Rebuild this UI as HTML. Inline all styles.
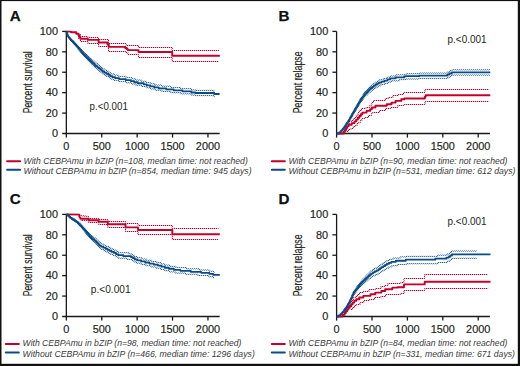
<!DOCTYPE html><html><head><meta charset="utf-8"><style>html,body{margin:0;padding:0;background:#fff}svg{display:block}text{font-family:"Liberation Sans",sans-serif}.t{stroke:#231f20;stroke-width:0.18px}</style></head><body>
<svg width="520" height="366" viewBox="0 0 520 366">
<defs><pattern id="pr" patternUnits="userSpaceOnUse" x="0" y="0" width="2" height="2"><rect x="0" y="0" width="1" height="1" fill="#c3002b"/><rect x="1" y="1" width="1" height="1" fill="#c3002b"/></pattern><pattern id="pb" patternUnits="userSpaceOnUse" x="0" y="0" width="2" height="2"><rect x="0" y="0" width="1" height="1" fill="#0b4a82"/><rect x="1" y="1" width="1" height="1" fill="#0b4a82"/></pattern></defs>
<rect x="0" y="0" width="520" height="366" fill="#fff"/>
<path d="M66.35 31.4V137.6" stroke="#1a1a1a" stroke-width="1.3" fill="none"/>
<path d="M62.15 133.5H219.65" stroke="#1a1a1a" stroke-width="1.3" fill="none"/>
<path d="M62.15 113.08H66.35" stroke="#1a1a1a" stroke-width="1.3" fill="none"/>
<path d="M62.15 92.66H66.35" stroke="#1a1a1a" stroke-width="1.3" fill="none"/>
<path d="M62.15 72.24H66.35" stroke="#1a1a1a" stroke-width="1.3" fill="none"/>
<path d="M62.15 51.82H66.35" stroke="#1a1a1a" stroke-width="1.3" fill="none"/>
<path d="M62.15 31.4H66.35" stroke="#1a1a1a" stroke-width="1.3" fill="none"/>
<path d="M101.75 133.5V137.6" stroke="#1a1a1a" stroke-width="1.3" fill="none"/>
<path d="M137.15 133.5V137.6" stroke="#1a1a1a" stroke-width="1.3" fill="none"/>
<path d="M172.55 133.5V137.6" stroke="#1a1a1a" stroke-width="1.3" fill="none"/>
<path d="M207.95 133.5V137.6" stroke="#1a1a1a" stroke-width="1.3" fill="none"/>
<text x="57.95" y="137.2" font-size="10.9" class="t" fill="#231f20" text-anchor="end">0</text>
<text x="57.95" y="116.78" font-size="10.9" class="t" fill="#231f20" text-anchor="end">20</text>
<text x="57.95" y="96.36" font-size="10.9" class="t" fill="#231f20" text-anchor="end">40</text>
<text x="57.95" y="75.94" font-size="10.9" class="t" fill="#231f20" text-anchor="end">60</text>
<text x="57.95" y="55.52" font-size="10.9" class="t" fill="#231f20" text-anchor="end">80</text>
<text x="57.95" y="35.1" font-size="10.9" class="t" fill="#231f20" text-anchor="end">100</text>
<text x="66.35" y="149.7" font-size="10.9" class="t" fill="#231f20" text-anchor="middle">0</text>
<text x="101.75" y="149.7" font-size="10.9" class="t" fill="#231f20" text-anchor="middle">500</text>
<text x="137.15" y="149.7" font-size="10.9" class="t" fill="#231f20" text-anchor="middle">1000</text>
<text x="172.55" y="149.7" font-size="10.9" class="t" fill="#231f20" text-anchor="middle">1500</text>
<text x="207.95" y="149.7" font-size="10.9" class="t" fill="#231f20" text-anchor="middle">2000</text>
<text transform="translate(32 113.3) rotate(-90)" x="0" y="0" font-size="12.3" class="t" fill="#231f20" textLength="62" lengthAdjust="spacingAndGlyphs">Percent survival</text>
<text x="89.6" y="109.8" font-size="10.2" fill="#231f20" textLength="38.3" lengthAdjust="spacingAndGlyphs">p.&lt;0.001</text>
<text x="9.8" y="20.9" font-size="15.2" font-weight="bold" fill="#111" stroke="#111" stroke-width="0.25">A</text>
<path d="M7.1 161.3H20.1" stroke="#c3002b" stroke-width="2" stroke-linecap="round" fill="none"/>
<path d="M7.1 169.7H20.1" stroke="#0b4a82" stroke-width="2" stroke-linecap="round" fill="none"/>
<text x="23.6" y="163.5" font-size="8.6" font-style="italic" fill="#3a3a3a" textLength="224.2" lengthAdjust="spacingAndGlyphs">With CEBPAmu in bZIP (n=108, median time: not reached)</text>
<text x="23.6" y="173.8" font-size="8.6" font-style="italic" fill="#3a3a3a" textLength="228" lengthAdjust="spacingAndGlyphs">Without CEBPAmu in bZIP (n=854, median time: 945 days)</text>
<path d="M336.6 31.4V137.6" stroke="#1a1a1a" stroke-width="1.3" fill="none"/>
<path d="M336.6 133.5H489.9" stroke="#1a1a1a" stroke-width="1.3" fill="none"/>
<path d="M332.4 113.08H336.6" stroke="#1a1a1a" stroke-width="1.3" fill="none"/>
<path d="M332.4 92.66H336.6" stroke="#1a1a1a" stroke-width="1.3" fill="none"/>
<path d="M332.4 72.24H336.6" stroke="#1a1a1a" stroke-width="1.3" fill="none"/>
<path d="M332.4 51.82H336.6" stroke="#1a1a1a" stroke-width="1.3" fill="none"/>
<path d="M332.4 31.4H336.6" stroke="#1a1a1a" stroke-width="1.3" fill="none"/>
<path d="M372 133.5V137.6" stroke="#1a1a1a" stroke-width="1.3" fill="none"/>
<path d="M407.4 133.5V137.6" stroke="#1a1a1a" stroke-width="1.3" fill="none"/>
<path d="M442.8 133.5V137.6" stroke="#1a1a1a" stroke-width="1.3" fill="none"/>
<path d="M478.2 133.5V137.6" stroke="#1a1a1a" stroke-width="1.3" fill="none"/>
<text x="328.2" y="137.2" font-size="10.9" class="t" fill="#231f20" text-anchor="end">0</text>
<text x="328.2" y="116.78" font-size="10.9" class="t" fill="#231f20" text-anchor="end">20</text>
<text x="328.2" y="96.36" font-size="10.9" class="t" fill="#231f20" text-anchor="end">40</text>
<text x="328.2" y="75.94" font-size="10.9" class="t" fill="#231f20" text-anchor="end">60</text>
<text x="328.2" y="55.52" font-size="10.9" class="t" fill="#231f20" text-anchor="end">80</text>
<text x="328.2" y="35.1" font-size="10.9" class="t" fill="#231f20" text-anchor="end">100</text>
<text x="336.6" y="149.7" font-size="10.9" class="t" fill="#231f20" text-anchor="middle">0</text>
<text x="372" y="149.7" font-size="10.9" class="t" fill="#231f20" text-anchor="middle">500</text>
<text x="407.4" y="149.7" font-size="10.9" class="t" fill="#231f20" text-anchor="middle">1000</text>
<text x="442.8" y="149.7" font-size="10.9" class="t" fill="#231f20" text-anchor="middle">1500</text>
<text x="478.2" y="149.7" font-size="10.9" class="t" fill="#231f20" text-anchor="middle">2000</text>
<text transform="translate(302.25 113.3) rotate(-90)" x="0" y="0" font-size="12.3" class="t" fill="#231f20" textLength="62" lengthAdjust="spacingAndGlyphs">Percent relapse</text>
<text x="447.6" y="42.6" font-size="10.2" fill="#231f20" textLength="38.9" lengthAdjust="spacingAndGlyphs">p.&lt;0.001</text>
<text x="278.6" y="21.1" font-size="15.2" font-weight="bold" fill="#111" stroke="#111" stroke-width="0.25">B</text>
<path d="M271.8 161.3H284.8" stroke="#c3002b" stroke-width="2" stroke-linecap="round" fill="none"/>
<path d="M271.8 169.7H284.8" stroke="#0b4a82" stroke-width="2" stroke-linecap="round" fill="none"/>
<text x="288.5" y="163.5" font-size="8.6" font-style="italic" fill="#3a3a3a" textLength="218.9" lengthAdjust="spacingAndGlyphs">With CEBPAmu in bZIP (n=90, median time: not reached)</text>
<text x="288.5" y="173.8" font-size="8.6" font-style="italic" fill="#3a3a3a" textLength="226.9" lengthAdjust="spacingAndGlyphs">Without CEBPAmu in bZIP (n=531, median time: 612 days)</text>
<path d="M66.35 214.4V320.6" stroke="#1a1a1a" stroke-width="1.3" fill="none"/>
<path d="M62.15 316.5H219.65" stroke="#1a1a1a" stroke-width="1.3" fill="none"/>
<path d="M62.15 296.08H66.35" stroke="#1a1a1a" stroke-width="1.3" fill="none"/>
<path d="M62.15 275.66H66.35" stroke="#1a1a1a" stroke-width="1.3" fill="none"/>
<path d="M62.15 255.24H66.35" stroke="#1a1a1a" stroke-width="1.3" fill="none"/>
<path d="M62.15 234.82H66.35" stroke="#1a1a1a" stroke-width="1.3" fill="none"/>
<path d="M62.15 214.4H66.35" stroke="#1a1a1a" stroke-width="1.3" fill="none"/>
<path d="M101.75 316.5V320.6" stroke="#1a1a1a" stroke-width="1.3" fill="none"/>
<path d="M137.15 316.5V320.6" stroke="#1a1a1a" stroke-width="1.3" fill="none"/>
<path d="M172.55 316.5V320.6" stroke="#1a1a1a" stroke-width="1.3" fill="none"/>
<path d="M207.95 316.5V320.6" stroke="#1a1a1a" stroke-width="1.3" fill="none"/>
<text x="57.95" y="320.2" font-size="10.9" class="t" fill="#231f20" text-anchor="end">0</text>
<text x="57.95" y="299.78" font-size="10.9" class="t" fill="#231f20" text-anchor="end">20</text>
<text x="57.95" y="279.36" font-size="10.9" class="t" fill="#231f20" text-anchor="end">40</text>
<text x="57.95" y="258.94" font-size="10.9" class="t" fill="#231f20" text-anchor="end">60</text>
<text x="57.95" y="238.52" font-size="10.9" class="t" fill="#231f20" text-anchor="end">80</text>
<text x="57.95" y="218.1" font-size="10.9" class="t" fill="#231f20" text-anchor="end">100</text>
<text x="66.35" y="332.7" font-size="10.9" class="t" fill="#231f20" text-anchor="middle">0</text>
<text x="101.75" y="332.7" font-size="10.9" class="t" fill="#231f20" text-anchor="middle">500</text>
<text x="137.15" y="332.7" font-size="10.9" class="t" fill="#231f20" text-anchor="middle">1000</text>
<text x="172.55" y="332.7" font-size="10.9" class="t" fill="#231f20" text-anchor="middle">1500</text>
<text x="207.95" y="332.7" font-size="10.9" class="t" fill="#231f20" text-anchor="middle">2000</text>
<text transform="translate(32 296.3) rotate(-90)" x="0" y="0" font-size="12.3" class="t" fill="#231f20" textLength="62" lengthAdjust="spacingAndGlyphs">Percent survival</text>
<text x="90.8" y="292.8" font-size="10.2" fill="#231f20" textLength="39.8" lengthAdjust="spacingAndGlyphs">p.&lt;0.001</text>
<text x="9.8" y="204.3" font-size="15.2" font-weight="bold" fill="#111" stroke="#111" stroke-width="0.25">C</text>
<path d="M5.8 344H18.8" stroke="#c3002b" stroke-width="2" stroke-linecap="round" fill="none"/>
<path d="M5.8 352.4H18.8" stroke="#0b4a82" stroke-width="2" stroke-linecap="round" fill="none"/>
<text x="22.6" y="346.2" font-size="8.6" font-style="italic" fill="#3a3a3a" textLength="218.8" lengthAdjust="spacingAndGlyphs">With CEBPAmu in bZIP (n=98, median time: not reached)</text>
<text x="22.6" y="356.5" font-size="8.6" font-style="italic" fill="#3a3a3a" textLength="232.2" lengthAdjust="spacingAndGlyphs">Without CEBPAmu in bZIP (n=466, median time: 1296 days)</text>
<path d="M336.6 214.4V320.6" stroke="#1a1a1a" stroke-width="1.3" fill="none"/>
<path d="M336.6 316.5H489.9" stroke="#1a1a1a" stroke-width="1.3" fill="none"/>
<path d="M332.4 296.08H336.6" stroke="#1a1a1a" stroke-width="1.3" fill="none"/>
<path d="M332.4 275.66H336.6" stroke="#1a1a1a" stroke-width="1.3" fill="none"/>
<path d="M332.4 255.24H336.6" stroke="#1a1a1a" stroke-width="1.3" fill="none"/>
<path d="M332.4 234.82H336.6" stroke="#1a1a1a" stroke-width="1.3" fill="none"/>
<path d="M332.4 214.4H336.6" stroke="#1a1a1a" stroke-width="1.3" fill="none"/>
<path d="M372 316.5V320.6" stroke="#1a1a1a" stroke-width="1.3" fill="none"/>
<path d="M407.4 316.5V320.6" stroke="#1a1a1a" stroke-width="1.3" fill="none"/>
<path d="M442.8 316.5V320.6" stroke="#1a1a1a" stroke-width="1.3" fill="none"/>
<path d="M478.2 316.5V320.6" stroke="#1a1a1a" stroke-width="1.3" fill="none"/>
<text x="328.2" y="320.2" font-size="10.9" class="t" fill="#231f20" text-anchor="end">0</text>
<text x="328.2" y="299.78" font-size="10.9" class="t" fill="#231f20" text-anchor="end">20</text>
<text x="328.2" y="279.36" font-size="10.9" class="t" fill="#231f20" text-anchor="end">40</text>
<text x="328.2" y="258.94" font-size="10.9" class="t" fill="#231f20" text-anchor="end">60</text>
<text x="328.2" y="238.52" font-size="10.9" class="t" fill="#231f20" text-anchor="end">80</text>
<text x="328.2" y="218.1" font-size="10.9" class="t" fill="#231f20" text-anchor="end">100</text>
<text x="336.6" y="332.7" font-size="10.9" class="t" fill="#231f20" text-anchor="middle">0</text>
<text x="372" y="332.7" font-size="10.9" class="t" fill="#231f20" text-anchor="middle">500</text>
<text x="407.4" y="332.7" font-size="10.9" class="t" fill="#231f20" text-anchor="middle">1000</text>
<text x="442.8" y="332.7" font-size="10.9" class="t" fill="#231f20" text-anchor="middle">1500</text>
<text x="478.2" y="332.7" font-size="10.9" class="t" fill="#231f20" text-anchor="middle">2000</text>
<text transform="translate(302.25 296.3) rotate(-90)" x="0" y="0" font-size="12.3" class="t" fill="#231f20" textLength="62" lengthAdjust="spacingAndGlyphs">Percent relapse</text>
<text x="447.6" y="225.3" font-size="10.2" fill="#231f20" textLength="38.9" lengthAdjust="spacingAndGlyphs">p.&lt;0.001</text>
<text x="278.6" y="203.9" font-size="15.2" font-weight="bold" fill="#111" stroke="#111" stroke-width="0.25">D</text>
<path d="M271.8 344H284.8" stroke="#c3002b" stroke-width="2" stroke-linecap="round" fill="none"/>
<path d="M271.8 352.4H284.8" stroke="#0b4a82" stroke-width="2" stroke-linecap="round" fill="none"/>
<text x="288.5" y="346.2" font-size="8.6" font-style="italic" fill="#3a3a3a" textLength="218.8" lengthAdjust="spacingAndGlyphs">With CEBPAmu in bZIP (n=84, median time: not reached)</text>
<text x="288.5" y="356.5" font-size="8.6" font-style="italic" fill="#3a3a3a" textLength="226.5" lengthAdjust="spacingAndGlyphs">Without CEBPAmu in bZIP (n=331, median time: 671 days)</text>
<path d="M78.6 33.5V34.5H80.4V36.5H87.8V37.5H98.4V39.5H108.5V43.5H126V45.5H138.5V47.5H172.2V50.5H219" stroke="#c3002b" stroke-width="1" fill="none" opacity="0.28"/><path d="M78.6 33.5V34.5H80.4V36.5H87.8V37.5H98.4V39.5H108.5V43.5H126V45.5H138.5V47.5H172.2V50.5H219" stroke="url(#pr)" stroke-width="1" fill="none" opacity="1.0"/>
<path d="M78.6 34.5V38.5H80.4V41.5H87.8V43.5H98.6V46.5H108.5V51.5H126V52.5H128V54.5H138.5V57.5H172.2V61.5H219" stroke="#c3002b" stroke-width="1" fill="none" opacity="0.28"/><path d="M78.6 34.5V38.5H80.4V41.5H87.8V43.5H98.6V46.5H108.5V51.5H126V52.5H128V54.5H138.5V57.5H172.2V61.5H219" stroke="url(#pr)" stroke-width="1" fill="none" opacity="1.0"/>
<path d="M70.8 39.5 L72.3 39.5 L72.3 40.88 L73.8 40.88 L73.8 42.25 L75.15 42.25 L75.15 43.53 L76.4 43.53 L76.4 44.89 L77.65 44.89 L77.65 46.25 L78.9 46.25 L78.9 47.61 L80.25 47.61 L80.25 49.08 L81.5 49.08 L81.5 50.44 L82.75 50.44 L82.75 51.79 L84.1 51.79 L84.1 53.09 L85.6 53.09 L85.6 54.47 L87.1 54.47 L87.1 55.84 L88.45 55.84 L88.45 57.08 L89.95 57.08 L89.95 58.45 L91.3 58.45 L91.3 59.69 L92.8 59.69 L92.8 60.98 L94.3 60.98 L94.3 62.26 L95.9 62.26 L95.9 63.58 L97.65 63.58 L97.65 64.9 L99.4 64.9 L99.4 66.22 L101 66.22 L101 67.54 L102.5 67.54 L102.5 68.79 L104.35 68.79 L104.35 70.1 L106.6 70.1 L106.6 71.3 L108.9 71.3 L108.9 72.66 L110.8 72.66 L110.8 73.9 L114.05 73.9 L114.05 75.18 L118.6 75.18 L118.6 76.4 L125.95 76.4 L125.95 77.6 L131.75 77.6 L131.75 78.85 L135.8 78.85 L135.8 80.07 L141.45 80.07 L141.45 81.3 L146.25 81.3 L146.25 82.54 L150.25 82.54 L150.25 83.76 L155 83.76 L155 85 L161.8 85 L161.8 86.22 L170.8 86.22 L170.8 87.45 L180.55 87.45 L180.55 88.66 L191.4 88.66 L191.4 89.89 L195.4 89.89 L195.4 90.4 L213.95 90.4 L213.95 91.67 L214.4 91.67" stroke="#0b4a82" stroke-width="1" fill="none" opacity="0.28"/><path d="M70.8 39.5 L72.3 39.5 L72.3 40.88 L73.8 40.88 L73.8 42.25 L75.15 42.25 L75.15 43.53 L76.4 43.53 L76.4 44.89 L77.65 44.89 L77.65 46.25 L78.9 46.25 L78.9 47.61 L80.25 47.61 L80.25 49.08 L81.5 49.08 L81.5 50.44 L82.75 50.44 L82.75 51.79 L84.1 51.79 L84.1 53.09 L85.6 53.09 L85.6 54.47 L87.1 54.47 L87.1 55.84 L88.45 55.84 L88.45 57.08 L89.95 57.08 L89.95 58.45 L91.3 58.45 L91.3 59.69 L92.8 59.69 L92.8 60.98 L94.3 60.98 L94.3 62.26 L95.9 62.26 L95.9 63.58 L97.65 63.58 L97.65 64.9 L99.4 64.9 L99.4 66.22 L101 66.22 L101 67.54 L102.5 67.54 L102.5 68.79 L104.35 68.79 L104.35 70.1 L106.6 70.1 L106.6 71.3 L108.9 71.3 L108.9 72.66 L110.8 72.66 L110.8 73.9 L114.05 73.9 L114.05 75.18 L118.6 75.18 L118.6 76.4 L125.95 76.4 L125.95 77.6 L131.75 77.6 L131.75 78.85 L135.8 78.85 L135.8 80.07 L141.45 80.07 L141.45 81.3 L146.25 81.3 L146.25 82.54 L150.25 82.54 L150.25 83.76 L155 83.76 L155 85 L161.8 85 L161.8 86.22 L170.8 86.22 L170.8 87.45 L180.55 87.45 L180.55 88.66 L191.4 88.66 L191.4 89.89 L195.4 89.89 L195.4 90.4 L213.95 90.4 L213.95 91.67 L214.4 91.67" stroke="url(#pb)" stroke-width="1" fill="none" opacity="0.8"/>
<path d="M70.8 40.9 L72.05 40.9 L72.05 42.25 L73.3 42.25 L73.3 43.61 L74.55 43.61 L74.55 44.96 L75.65 44.96 L75.65 46.28 L76.65 46.28 L76.65 47.54 L77.65 47.54 L77.65 48.79 L78.65 48.79 L78.65 50.04 L79.75 50.04 L79.75 51.42 L80.75 51.42 L80.75 52.68 L81.75 52.68 L81.75 53.93 L82.75 53.93 L82.75 55.19 L83.85 55.19 L83.85 56.44 L85.1 56.44 L85.1 57.79 L86.35 57.79 L86.35 59.15 L87.7 59.15 L87.7 60.61 L88.95 60.61 L88.95 61.96 L90.2 61.96 L90.2 63.32 L91.55 63.32 L91.55 64.75 L93.05 64.75 L93.05 66.17 L94.55 66.17 L94.55 67.59 L96.15 67.59 L96.15 68.97 L97.9 68.97 L97.9 70.29 L99.5 70.29 L99.5 71.5 L101 71.5 L101 72.74 L102.5 72.74 L102.5 73.99 L104.35 73.99 L104.35 75.3 L106.6 75.3 L106.6 76.5 L108.9 76.5 L108.9 77.86 L110.8 77.86 L110.8 79.1 L114.05 79.1 L114.05 80.38 L118.6 80.38 L118.6 81.6 L125.95 81.6 L125.95 82.8 L131.75 82.8 L131.75 84.05 L135.8 84.05 L135.8 85.27 L141.45 85.27 L141.45 86.5 L146.25 86.5 L146.25 87.73 L150.25 87.73 L150.25 88.96 L155 88.96 L155 90.2 L161.8 90.2 L161.8 91.42 L170.8 91.42 L170.8 92.65 L180.55 92.65 L180.55 93.86 L191.4 93.86 L191.4 95.09 L195.4 95.09 L195.4 95.6 L213.95 95.6 L213.95 96.87 L214.4 96.87" stroke="#0b4a82" stroke-width="1" fill="none" opacity="0.28"/><path d="M70.8 40.9 L72.05 40.9 L72.05 42.25 L73.3 42.25 L73.3 43.61 L74.55 43.61 L74.55 44.96 L75.65 44.96 L75.65 46.28 L76.65 46.28 L76.65 47.54 L77.65 47.54 L77.65 48.79 L78.65 48.79 L78.65 50.04 L79.75 50.04 L79.75 51.42 L80.75 51.42 L80.75 52.68 L81.75 52.68 L81.75 53.93 L82.75 53.93 L82.75 55.19 L83.85 55.19 L83.85 56.44 L85.1 56.44 L85.1 57.79 L86.35 57.79 L86.35 59.15 L87.7 59.15 L87.7 60.61 L88.95 60.61 L88.95 61.96 L90.2 61.96 L90.2 63.32 L91.55 63.32 L91.55 64.75 L93.05 64.75 L93.05 66.17 L94.55 66.17 L94.55 67.59 L96.15 67.59 L96.15 68.97 L97.9 68.97 L97.9 70.29 L99.5 70.29 L99.5 71.5 L101 71.5 L101 72.74 L102.5 72.74 L102.5 73.99 L104.35 73.99 L104.35 75.3 L106.6 75.3 L106.6 76.5 L108.9 76.5 L108.9 77.86 L110.8 77.86 L110.8 79.1 L114.05 79.1 L114.05 80.38 L118.6 80.38 L118.6 81.6 L125.95 81.6 L125.95 82.8 L131.75 82.8 L131.75 84.05 L135.8 84.05 L135.8 85.27 L141.45 85.27 L141.45 86.5 L146.25 86.5 L146.25 87.73 L150.25 87.73 L150.25 88.96 L155 88.96 L155 90.2 L161.8 90.2 L161.8 91.42 L170.8 91.42 L170.8 92.65 L180.55 92.65 L180.55 93.86 L191.4 93.86 L191.4 95.09 L195.4 95.09 L195.4 95.6 L213.95 95.6 L213.95 96.87 L214.4 96.87" stroke="url(#pb)" stroke-width="1" fill="none" opacity="0.8"/>
<path d="M66.35 31.5V31.6H71V32.3H76.3V33.8H78.6V35.5H79.5V37.2H80.4V38.8H87.8V39.9H98.6V42.5H107.5V44.5H108.8V46.9H125.2V48H126.8V49.1H127.9V50.1H138.5V52H172.2V55.7H219.8" stroke="#c3002b" stroke-width="1.9" fill="none" stroke-linejoin="round"/>
<path d="M66.35 31.5 L66.5 31.5 L66.5 32.5 L67 32.5 L67 33.84 L67.5 33.84 L67.5 35.19 L68 35.19 L68 36.53 L68.85 36.53 L68.85 37.74 L69.85 37.74 L69.85 39 L70.8 39 L70.8 40.2 L71.8 40.2 L71.8 41.2 L73.05 41.2 L73.05 42.45 L74.3 42.45 L74.3 43.7 L75.4 43.7 L75.4 44.89 L76.4 44.89 L76.4 46.06 L77.4 46.06 L77.4 47.23 L78.4 47.23 L78.4 48.4 L79.5 48.4 L79.5 49.69 L80.5 49.69 L80.5 50.86 L81.5 50.86 L81.5 52.03 L82.5 52.03 L82.5 53.2 L83.6 53.2 L83.6 54.4 L84.6 54.4 L84.6 55.4 L85.85 55.4 L85.85 56.65 L86.85 56.65 L86.85 57.65 L87.95 57.65 L87.95 58.75 L88.95 58.75 L88.95 59.75 L89.95 59.75 L89.95 60.75 L90.95 60.75 L90.95 61.75 L92.05 61.75 L92.05 62.78 L93.3 62.78 L93.3 63.9 L94.55 63.9 L94.55 65.03 L95.9 65.03 L95.9 66.18 L97.4 66.18 L97.4 67.31 L98.9 67.31 L98.9 68.45 L100.25 68.45 L100.25 69.52 L101.5 69.52 L101.5 70.56 L102.75 70.56 L102.75 71.6 L104.35 71.6 L104.35 72.7 L106.35 72.7 L106.35 73.77 L108.4 73.77 L108.4 74.93 L110.15 74.93 L110.15 76.07 L112.3 76.07 L112.3 77.09 L115.1 77.09 L115.1 78.12 L119.1 78.12 L119.1 79.12 L125.7 79.12 L125.7 80.16 L131 80.16 L131 81.22 L134.3 81.22 L134.3 82.24 L137.8 82.24 L137.8 83.24 L143.75 83.24 L143.75 84.28 L146.75 84.28 L146.75 85.31 L150.25 85.31 L150.25 86.36 L154.25 86.36 L154.25 87.4 L158.8 87.4 L158.8 88.41 L166.3 88.41 L166.3 89.43 L173.8 89.43 L173.8 90.46 L182.55 90.46 L182.55 91.47 L191.4 91.47 L191.4 92.49 L195.4 92.49 L195.4 93 L214.2 93 L214.2 94.01 L219.6 94.01" stroke="#0b4a82" stroke-width="1.8" fill="none" stroke-linejoin="round"/>
<path d="M342.9 127.91 L343.9 127.91 L343.9 126.46 L344.9 126.46 L344.9 125.01 L345.8 125.01 L345.8 123.7 L346.8 123.7 L346.8 122.16 L347.8 122.16 L347.8 120.62 L348.8 120.62 L348.8 119.09 L349.55 119.09 L349.55 117.66 L350.3 117.66 L350.3 116.24 L351.05 116.24 L351.05 114.81 L351.7 114.81 L351.7 113.58 L352.45 113.58 L352.45 112.25 L353.2 112.25 L353.2 110.92 L353.95 110.92 L353.95 109.59 L354.7 109.59 L354.7 108.26 L355.45 108.26 L355.45 106.94 L356.2 106.94 L356.2 105.62 L356.95 105.62 L356.95 104.3 L357.85 104.3 L357.85 102.71 L358.6 102.71 L358.6 101.39 L359.35 101.39 L359.35 100.06 L360.1 100.06 L360.1 98.73 L360.85 98.73 L360.85 97.47 L361.85 97.47 L361.85 96 L362.85 96 L362.85 94.52 L363.85 94.52 L363.85 93.05 L364.8 93.05 L364.8 91.64 L366.05 91.64 L366.05 90.3 L367.3 90.3 L367.3 88.96 L368.55 88.96 L368.55 87.63 L369.85 87.63 L369.85 86.3 L371.6 86.3 L371.6 84.92 L373.35 84.92 L373.35 83.53 L375.15 83.53 L375.15 82.26 L377.4 82.26 L377.4 80.94 L379.5 80.94 L379.5 79.7 L383.25 79.7 L383.25 78.45 L386.75 78.45 L386.75 77.23 L390 77.23 L390 75.99 L396.3 75.99 L396.3 74.77 L406 74.77 L406 73.7 L419.2 73.7 L419.2 73.1 L447.75 73.1 L447.75 71.81 L450.25 71.81 L450.25 70.56 L452 70.56 L452 69.8 L490 69.8" stroke="#0b4a82" stroke-width="1" fill="none" opacity="0.28"/><path d="M342.9 127.91 L343.9 127.91 L343.9 126.46 L344.9 126.46 L344.9 125.01 L345.8 125.01 L345.8 123.7 L346.8 123.7 L346.8 122.16 L347.8 122.16 L347.8 120.62 L348.8 120.62 L348.8 119.09 L349.55 119.09 L349.55 117.66 L350.3 117.66 L350.3 116.24 L351.05 116.24 L351.05 114.81 L351.7 114.81 L351.7 113.58 L352.45 113.58 L352.45 112.25 L353.2 112.25 L353.2 110.92 L353.95 110.92 L353.95 109.59 L354.7 109.59 L354.7 108.26 L355.45 108.26 L355.45 106.94 L356.2 106.94 L356.2 105.62 L356.95 105.62 L356.95 104.3 L357.85 104.3 L357.85 102.71 L358.6 102.71 L358.6 101.39 L359.35 101.39 L359.35 100.06 L360.1 100.06 L360.1 98.73 L360.85 98.73 L360.85 97.47 L361.85 97.47 L361.85 96 L362.85 96 L362.85 94.52 L363.85 94.52 L363.85 93.05 L364.8 93.05 L364.8 91.64 L366.05 91.64 L366.05 90.3 L367.3 90.3 L367.3 88.96 L368.55 88.96 L368.55 87.63 L369.85 87.63 L369.85 86.3 L371.6 86.3 L371.6 84.92 L373.35 84.92 L373.35 83.53 L375.15 83.53 L375.15 82.26 L377.4 82.26 L377.4 80.94 L379.5 80.94 L379.5 79.7 L383.25 79.7 L383.25 78.45 L386.75 78.45 L386.75 77.23 L390 77.23 L390 75.99 L396.3 75.99 L396.3 74.77 L406 74.77 L406 73.7 L419.2 73.7 L419.2 73.1 L447.75 73.1 L447.75 71.81 L450.25 71.81 L450.25 70.56 L452 70.56 L452 69.8 L490 69.8" stroke="url(#pb)" stroke-width="1" fill="none" opacity="0.8"/>
<path d="M342.9 129.29 L343.9 129.29 L343.9 127.98 L344.9 127.98 L344.9 126.68 L346.05 126.68 L346.05 125.15 L347.05 125.15 L347.05 123.76 L348.05 123.76 L348.05 122.36 L349.05 122.36 L349.05 120.88 L349.8 120.88 L349.8 119.56 L350.55 119.56 L350.55 118.24 L351.3 118.24 L351.3 116.92 L352.2 116.92 L352.2 115.41 L352.95 115.41 L352.95 114.19 L353.7 114.19 L353.7 112.96 L354.45 112.96 L354.45 111.74 L355.2 111.74 L355.2 110.53 L355.95 110.53 L355.95 109.31 L356.7 109.31 L356.7 108.1 L357.45 108.1 L357.45 106.89 L358.35 106.89 L358.35 105.42 L359.1 105.42 L359.1 104.2 L359.85 104.2 L359.85 102.98 L360.6 102.98 L360.6 101.76 L361.6 101.76 L361.6 100.42 L362.6 100.42 L362.6 99.09 L363.6 99.09 L363.6 97.76 L364.6 97.76 L364.6 96.42 L365.8 96.42 L365.8 95.21 L367.3 95.21 L367.3 93.78 L368.8 93.78 L368.8 92.36 L370.35 92.36 L370.35 91.04 L372.1 91.04 L372.1 89.72 L373.85 89.72 L373.85 88.41 L375.9 88.41 L375.9 87.12 L378.15 87.12 L378.15 85.79 L380.75 85.79 L380.75 84.58 L384.5 84.58 L384.5 83.33 L388 83.33 L388 82.05 L391.25 82.05 L391.25 80.82 L399.5 80.82 L399.5 79.6 L406 79.6 L406 79 L419.2 79 L419.2 78.4 L447.75 78.4 L447.75 77.11 L450.25 77.11 L450.25 75.86 L452 75.86 L452 75.1 L490 75.1" stroke="#0b4a82" stroke-width="1" fill="none" opacity="0.28"/><path d="M342.9 129.29 L343.9 129.29 L343.9 127.98 L344.9 127.98 L344.9 126.68 L346.05 126.68 L346.05 125.15 L347.05 125.15 L347.05 123.76 L348.05 123.76 L348.05 122.36 L349.05 122.36 L349.05 120.88 L349.8 120.88 L349.8 119.56 L350.55 119.56 L350.55 118.24 L351.3 118.24 L351.3 116.92 L352.2 116.92 L352.2 115.41 L352.95 115.41 L352.95 114.19 L353.7 114.19 L353.7 112.96 L354.45 112.96 L354.45 111.74 L355.2 111.74 L355.2 110.53 L355.95 110.53 L355.95 109.31 L356.7 109.31 L356.7 108.1 L357.45 108.1 L357.45 106.89 L358.35 106.89 L358.35 105.42 L359.1 105.42 L359.1 104.2 L359.85 104.2 L359.85 102.98 L360.6 102.98 L360.6 101.76 L361.6 101.76 L361.6 100.42 L362.6 100.42 L362.6 99.09 L363.6 99.09 L363.6 97.76 L364.6 97.76 L364.6 96.42 L365.8 96.42 L365.8 95.21 L367.3 95.21 L367.3 93.78 L368.8 93.78 L368.8 92.36 L370.35 92.36 L370.35 91.04 L372.1 91.04 L372.1 89.72 L373.85 89.72 L373.85 88.41 L375.9 88.41 L375.9 87.12 L378.15 87.12 L378.15 85.79 L380.75 85.79 L380.75 84.58 L384.5 84.58 L384.5 83.33 L388 83.33 L388 82.05 L391.25 82.05 L391.25 80.82 L399.5 80.82 L399.5 79.6 L406 79.6 L406 79 L419.2 79 L419.2 78.4 L447.75 78.4 L447.75 77.11 L450.25 77.11 L450.25 75.86 L452 75.86 L452 75.1 L490 75.1" stroke="url(#pb)" stroke-width="1" fill="none" opacity="0.8"/>
<path d="M346.8 123.5 L349.3 123.5 L349.3 121.5 L351.45 121.5 L351.45 120.5 L353.2 120.5 L353.2 118.5 L354.95 118.5 L354.95 117.5 L356.2 117.5 L356.2 115.5 L357.2 115.5 L357.2 114.5 L358.2 114.5 L358.2 112.5 L359.2 112.5 L359.2 110.5 L361.35 110.5 L361.35 108.5 L366 108.5 L366 107.5 L369.75 107.5 L369.75 105.5 L371.25 105.5 L371.25 104.5 L372 104.5 L372 102.5 L373.5 102.5 L373.5 100.5 L374.6 100.5 L374.6 100.5 L385.25 100.5 L385.25 98.5 L388.25 98.5 L388.25 97.5 L393 97.5 L393 95.5 L398.25 95.5 L398.25 94.5 L403.5 94.5 L403.5 92.5 L404.2 92.5 L404.2 92.5 L424.85 92.5 L424.85 90.5 L425.5 90.5 L425.5 89.5 L489 89.5" stroke="#c3002b" stroke-width="1" fill="none" opacity="0.28"/><path d="M346.8 123.5 L349.3 123.5 L349.3 121.5 L351.45 121.5 L351.45 120.5 L353.2 120.5 L353.2 118.5 L354.95 118.5 L354.95 117.5 L356.2 117.5 L356.2 115.5 L357.2 115.5 L357.2 114.5 L358.2 114.5 L358.2 112.5 L359.2 112.5 L359.2 110.5 L361.35 110.5 L361.35 108.5 L366 108.5 L366 107.5 L369.75 107.5 L369.75 105.5 L371.25 105.5 L371.25 104.5 L372 104.5 L372 102.5 L373.5 102.5 L373.5 100.5 L374.6 100.5 L374.6 100.5 L385.25 100.5 L385.25 98.5 L388.25 98.5 L388.25 97.5 L393 97.5 L393 95.5 L398.25 95.5 L398.25 94.5 L403.5 94.5 L403.5 92.5 L404.2 92.5 L404.2 92.5 L424.85 92.5 L424.85 90.5 L425.5 90.5 L425.5 89.5 L489 89.5" stroke="url(#pr)" stroke-width="1" fill="none" opacity="1.0"/>
<path d="M345.8 131.5 L348.3 131.5 L348.3 129.5 L350.95 129.5 L350.95 128.5 L353.2 128.5 L353.2 126.5 L355.45 126.5 L355.45 125.5 L357.2 125.5 L357.2 123.5 L358.7 123.5 L358.7 122.5 L360.35 122.5 L360.35 120.5 L362 120.5 L362 118.5 L364.75 118.5 L364.75 117.5 L368.5 117.5 L368.5 115.5 L371.5 115.5 L371.5 113.5 L372.5 113.5 L372.5 112.5 L379.35 112.5 L379.35 110.5 L385.5 110.5 L385.5 108.5 L390.75 108.5 L390.75 107.5 L397.75 107.5 L397.75 105.5 L403.75 105.5 L403.75 104.5 L404.2 104.5 L404.2 104.5 L424.85 104.5 L424.85 102.5 L425.5 102.5 L425.5 101.5 L489 101.5" stroke="#c3002b" stroke-width="1" fill="none" opacity="0.28"/><path d="M345.8 131.5 L348.3 131.5 L348.3 129.5 L350.95 129.5 L350.95 128.5 L353.2 128.5 L353.2 126.5 L355.45 126.5 L355.45 125.5 L357.2 125.5 L357.2 123.5 L358.7 123.5 L358.7 122.5 L360.35 122.5 L360.35 120.5 L362 120.5 L362 118.5 L364.75 118.5 L364.75 117.5 L368.5 117.5 L368.5 115.5 L371.5 115.5 L371.5 113.5 L372.5 113.5 L372.5 112.5 L379.35 112.5 L379.35 110.5 L385.5 110.5 L385.5 108.5 L390.75 108.5 L390.75 107.5 L397.75 107.5 L397.75 105.5 L403.75 105.5 L403.75 104.5 L404.2 104.5 L404.2 104.5 L424.85 104.5 L424.85 102.5 L425.5 102.5 L425.5 101.5 L489 101.5" stroke="url(#pr)" stroke-width="1" fill="none" opacity="1.0"/>
<path d="M336.6 133.5 L343.65 133.5 L343.65 131.74 L344.9 131.74 L344.9 129.92 L346.05 129.92 L346.05 128.07 L347.05 128.07 L347.05 126.38 L348.55 126.38 L348.55 124.71 L351.7 124.71 L351.7 123.1 L354.45 123.1 L354.45 121.35 L356.2 121.35 L356.2 119.6 L357.85 119.6 L357.85 117.74 L359.35 117.74 L359.35 115.99 L360.85 115.99 L360.85 114.29 L362.35 114.29 L362.35 112.6 L366.55 112.6 L366.55 110.9 L370.1 110.9 L370.1 109.2 L371.85 109.2 L371.85 107.45 L375.4 107.45 L375.4 105.8 L386.75 105.8 L386.75 104.19 L391.55 104.19 L391.55 102.58 L395.55 102.58 L395.55 100.9 L401.25 100.9 L401.25 99.27 L404.2 99.27 L404.2 98.5 L424.85 98.5 L424.85 96.74 L425.7 96.74 L425.7 95.2 L490.3 95.2" stroke="#c3002b" stroke-width="1.9" fill="none" stroke-linejoin="round"/>
<path d="M336.6 133.5 L339.25 133.5 L339.25 132.39 L340.65 132.39 L340.65 131.22 L341.65 131.22 L341.65 130.06 L342.65 130.06 L342.65 128.89 L343.65 128.89 L343.65 127.57 L344.4 127.57 L344.4 126.53 L345.15 126.53 L345.15 125.5 L346.05 125.5 L346.05 124.23 L346.8 124.23 L346.8 123.13 L347.55 123.13 L347.55 122.03 L348.3 122.03 L348.3 120.93 L349.05 120.93 L349.05 119.74 L349.8 119.74 L349.8 118.37 L350.55 118.37 L350.55 117 L351.3 117 L351.3 115.63 L351.95 115.63 L351.95 114.48 L352.7 114.48 L352.7 113.2 L353.45 113.2 L353.45 111.92 L354.2 111.92 L354.2 110.65 L354.95 110.65 L354.95 109.38 L355.7 109.38 L355.7 108.11 L356.45 108.11 L356.45 106.84 L357.2 106.84 L357.2 105.58 L357.85 105.58 L357.85 104.48 L358.6 104.48 L358.6 103.2 L359.35 103.2 L359.35 101.92 L360.1 101.92 L360.1 100.65 L360.85 100.65 L360.85 99.45 L361.6 99.45 L361.6 98.4 L362.35 98.4 L362.35 97.34 L363.1 97.34 L363.1 96.29 L363.85 96.29 L363.85 95.23 L364.6 95.23 L364.6 94.18 L365.55 94.18 L365.55 93.13 L366.55 93.13 L366.55 92.11 L367.55 92.11 L367.55 91.09 L368.55 91.09 L368.55 90.07 L369.55 90.07 L369.55 89.05 L370.85 89.05 L370.85 88.01 L372.35 88.01 L372.35 86.82 L373.85 86.82 L373.85 85.64 L375.4 85.64 L375.4 84.61 L377.15 84.61 L377.15 83.58 L378.9 83.58 L378.9 82.55 L381.5 82.55 L381.5 81.53 L384.5 81.53 L384.5 80.53 L387.5 80.53 L387.5 79.44 L390.25 79.44 L390.25 78.4 L395.55 78.4 L395.55 77.38 L404.25 77.38 L404.25 76.36 L406 76.36 L406 76.2 L419.2 76.2 L419.2 75.6 L447.25 75.6 L447.25 74.59 L449.25 74.59 L449.25 73.49 L451.75 73.49 L451.75 72.41 L452 72.41 L452 72.3 L490.3 72.3" stroke="#0b4a82" stroke-width="1.8" fill="none" stroke-linejoin="round"/>
<path d="M79.6 215.5 L88.6 216.5 L88.6 218.5 L98.6 218.5 L98.6 219.5 L107.8 219.5 L107.8 221.5 L125.5 221.5 L125.5 223.5 L138 223.5 L138 225.5 L172.3 225.5 L172.3 228.5 L218.4 228.5" stroke="#c3002b" stroke-width="1" fill="none" opacity="0.28"/><path d="M79.6 215.5 L88.6 216.5 L88.6 218.5 L98.6 218.5 L98.6 219.5 L107.8 219.5 L107.8 221.5 L125.5 221.5 L125.5 223.5 L138 223.5 L138 225.5 L172.3 225.5 L172.3 228.5 L218.4 228.5" stroke="url(#pr)" stroke-width="1" fill="none" opacity="1.0"/>
<path d="M79.6 218.5 L81 220.5 L88.6 220.5 L88.6 222.5 L98.6 222.5 L98.6 224.5 L107.8 224.5 L107.8 227.5 L125.5 227.5 L125.5 231.5 L138 231.5 L138 234.5 L172.3 234.5 L172.3 239.5 L218.4 239.5" stroke="#c3002b" stroke-width="1" fill="none" opacity="0.28"/><path d="M79.6 218.5 L81 220.5 L88.6 220.5 L88.6 222.5 L98.6 222.5 L98.6 224.5 L107.8 224.5 L107.8 227.5 L125.5 227.5 L125.5 231.5 L138 231.5 L138 234.5 L172.3 234.5 L172.3 239.5 L218.4 239.5" stroke="url(#pr)" stroke-width="1" fill="none" opacity="1.0"/>
<path d="M70.6 217.67 L72.85 217.67 L72.85 219.01 L75 219.01 L75 220.32 L77 220.32 L77 221.59 L78.75 221.59 L78.75 222.91 L80.25 222.91 L80.25 224.24 L81.65 224.24 L81.65 225.69 L82.8 225.69 L82.8 226.9 L84.05 226.9 L84.05 228.31 L85.3 228.31 L85.3 229.72 L86.55 229.72 L86.55 231.13 L87.8 231.13 L87.8 232.54 L89.05 232.54 L89.05 233.86 L90.2 233.86 L90.2 235.07 L91.7 235.07 L91.7 236.34 L93.35 236.34 L93.35 237.62 L95.1 237.62 L95.1 238.82 L96.6 238.82 L96.6 240.21 L98 240.21 L98 241.54 L99.25 241.54 L99.25 242.77 L101 242.77 L101 243.98 L103.5 243.98 L103.5 245.18 L106 245.18 L106 246.41 L108.5 246.41 L108.5 247.69 L110.9 247.69 L110.9 248.89 L113.4 248.89 L113.4 250.11 L116.05 250.11 L116.05 251.44 L118.55 251.44 L118.55 252.71 L128.5 252.71 L128.5 253.94 L132.2 253.94 L132.2 255.23 L134.45 255.23 L134.45 256.5 L136.9 256.5 L136.9 257.73 L141.65 257.73 L141.65 258.99 L146.4 258.99 L146.4 260.25 L151.6 260.25 L151.6 261.47 L156.85 261.47 L156.85 262.69 L160.9 262.69 L160.9 263.92 L164.9 263.92 L164.9 265.13 L169.85 265.13 L169.85 266.36 L175.85 266.36 L175.85 267.58 L186.65 267.58 L186.65 268.81 L199.15 268.81 L199.15 270.02 L209.35 270.02 L209.35 271.24 L213.85 271.24 L213.85 272.48 L214.3 272.48" stroke="#0b4a82" stroke-width="1" fill="none" opacity="0.28"/><path d="M70.6 217.67 L72.85 217.67 L72.85 219.01 L75 219.01 L75 220.32 L77 220.32 L77 221.59 L78.75 221.59 L78.75 222.91 L80.25 222.91 L80.25 224.24 L81.65 224.24 L81.65 225.69 L82.8 225.69 L82.8 226.9 L84.05 226.9 L84.05 228.31 L85.3 228.31 L85.3 229.72 L86.55 229.72 L86.55 231.13 L87.8 231.13 L87.8 232.54 L89.05 232.54 L89.05 233.86 L90.2 233.86 L90.2 235.07 L91.7 235.07 L91.7 236.34 L93.35 236.34 L93.35 237.62 L95.1 237.62 L95.1 238.82 L96.6 238.82 L96.6 240.21 L98 240.21 L98 241.54 L99.25 241.54 L99.25 242.77 L101 242.77 L101 243.98 L103.5 243.98 L103.5 245.18 L106 245.18 L106 246.41 L108.5 246.41 L108.5 247.69 L110.9 247.69 L110.9 248.89 L113.4 248.89 L113.4 250.11 L116.05 250.11 L116.05 251.44 L118.55 251.44 L118.55 252.71 L128.5 252.71 L128.5 253.94 L132.2 253.94 L132.2 255.23 L134.45 255.23 L134.45 256.5 L136.9 256.5 L136.9 257.73 L141.65 257.73 L141.65 258.99 L146.4 258.99 L146.4 260.25 L151.6 260.25 L151.6 261.47 L156.85 261.47 L156.85 262.69 L160.9 262.69 L160.9 263.92 L164.9 263.92 L164.9 265.13 L169.85 265.13 L169.85 266.36 L175.85 266.36 L175.85 267.58 L186.65 267.58 L186.65 268.81 L199.15 268.81 L199.15 270.02 L209.35 270.02 L209.35 271.24 L213.85 271.24 L213.85 272.48 L214.3 272.48" stroke="url(#pb)" stroke-width="1" fill="none" opacity="0.8"/>
<path d="M70.6 218.73 L72.35 218.73 L72.35 220.02 L74 220.02 L74 221.25 L75.75 221.25 L75.75 222.58 L77.5 222.58 L77.5 223.96 L79 223.96 L79 225.39 L80.25 225.39 L80.25 226.67 L81.4 226.67 L81.4 228.03 L82.65 228.03 L82.65 229.52 L83.8 229.52 L83.8 230.97 L84.8 230.97 L84.8 232.24 L85.8 232.24 L85.8 233.51 L86.8 233.51 L86.8 234.79 L87.8 234.79 L87.8 236.06 L89.05 236.06 L89.05 237.55 L90.2 237.55 L90.2 238.93 L91.45 238.93 L91.45 240.16 L92.85 240.16 L92.85 241.51 L94.35 241.51 L94.35 242.75 L95.85 242.75 L95.85 244.18 L97.1 244.18 L97.1 245.52 L98.25 245.52 L98.25 246.78 L99.5 246.78 L99.5 248.17 L101.25 248.17 L101.25 249.42 L103.5 249.42 L103.5 250.66 L105.75 250.66 L105.75 251.87 L108.25 251.87 L108.25 253.15 L110.65 253.15 L110.65 254.37 L113.15 254.37 L113.15 255.59 L115.8 255.59 L115.8 256.91 L118.3 256.91 L118.3 258.19 L127 258.19 L127 259.39 L131.95 259.39 L131.95 260.69 L134.2 260.69 L134.2 261.96 L136.4 261.96 L136.4 263.2 L141.15 263.2 L141.15 264.46 L145.9 264.46 L145.9 265.71 L151.1 265.71 L151.1 266.95 L156.35 266.95 L156.35 268.17 L160.65 268.17 L160.65 269.44 L164.65 269.44 L164.65 270.66 L169.35 270.66 L169.35 271.86 L175.35 271.86 L175.35 273.08 L185.4 273.08 L185.4 274.28 L197.85 274.28 L197.85 275.5 L208.85 275.5 L208.85 276.71 L213.35 276.71 L213.35 277.94 L214.3 277.94" stroke="#0b4a82" stroke-width="1" fill="none" opacity="0.28"/><path d="M70.6 218.73 L72.35 218.73 L72.35 220.02 L74 220.02 L74 221.25 L75.75 221.25 L75.75 222.58 L77.5 222.58 L77.5 223.96 L79 223.96 L79 225.39 L80.25 225.39 L80.25 226.67 L81.4 226.67 L81.4 228.03 L82.65 228.03 L82.65 229.52 L83.8 229.52 L83.8 230.97 L84.8 230.97 L84.8 232.24 L85.8 232.24 L85.8 233.51 L86.8 233.51 L86.8 234.79 L87.8 234.79 L87.8 236.06 L89.05 236.06 L89.05 237.55 L90.2 237.55 L90.2 238.93 L91.45 238.93 L91.45 240.16 L92.85 240.16 L92.85 241.51 L94.35 241.51 L94.35 242.75 L95.85 242.75 L95.85 244.18 L97.1 244.18 L97.1 245.52 L98.25 245.52 L98.25 246.78 L99.5 246.78 L99.5 248.17 L101.25 248.17 L101.25 249.42 L103.5 249.42 L103.5 250.66 L105.75 250.66 L105.75 251.87 L108.25 251.87 L108.25 253.15 L110.65 253.15 L110.65 254.37 L113.15 254.37 L113.15 255.59 L115.8 255.59 L115.8 256.91 L118.3 256.91 L118.3 258.19 L127 258.19 L127 259.39 L131.95 259.39 L131.95 260.69 L134.2 260.69 L134.2 261.96 L136.4 261.96 L136.4 263.2 L141.15 263.2 L141.15 264.46 L145.9 264.46 L145.9 265.71 L151.1 265.71 L151.1 266.95 L156.35 266.95 L156.35 268.17 L160.65 268.17 L160.65 269.44 L164.65 269.44 L164.65 270.66 L169.35 270.66 L169.35 271.86 L175.35 271.86 L175.35 273.08 L185.4 273.08 L185.4 274.28 L197.85 274.28 L197.85 275.5 L208.85 275.5 L208.85 276.71 L213.35 276.71 L213.35 277.94 L214.3 277.94" stroke="url(#pb)" stroke-width="1" fill="none" opacity="0.8"/>
<path d="M66.35 214.4 L79.4 214.6 L79.4 216.8 L81 218.8 L88.6 218.8 L88.6 220.3 L98.6 220.3 L98.6 221.8 L107.8 221.8 L107.8 224.2 L125.5 224.2 L125.5 227.4 L138 227.4 L138 230 L172.3 230 L172.3 234.2 L219.8 234.2" stroke="#c3002b" stroke-width="1.9" fill="none" stroke-linejoin="round"/>
<path d="M66.35 214.5 L67.6 214.5 L67.6 215.55 L69 215.55 L69 216.75 L70.25 216.75 L70.25 217.88 L71.85 217.88 L71.85 219.03 L73.5 219.03 L73.5 220.14 L75 220.14 L75 221.16 L76.5 221.16 L76.5 222.22 L78 222.22 L78 223.3 L79.25 223.3 L79.25 224.5 L80.4 224.5 L80.4 225.6 L81.4 225.6 L81.4 226.72 L82.4 226.72 L82.4 227.85 L83.3 227.85 L83.3 228.9 L84.3 228.9 L84.3 230.1 L85.3 230.1 L85.3 231.3 L86.3 231.3 L86.3 232.5 L87.3 232.5 L87.3 233.7 L88.3 233.7 L88.3 234.86 L89.3 234.86 L89.3 235.99 L90.2 235.99 L90.2 237 L91.45 237 L91.45 238.15 L92.6 238.15 L92.6 239.2 L94.1 239.2 L94.1 240.34 L95.35 240.34 L95.35 241.35 L96.35 241.35 L96.35 242.35 L97.35 242.35 L97.35 243.35 L98.5 243.35 L98.5 244.54 L99.5 244.54 L99.5 245.58 L101 245.58 L101 246.58 L103.25 246.58 L103.25 247.66 L105.5 247.66 L105.5 248.76 L107.5 248.76 L107.5 249.78 L109.5 249.78 L109.5 250.8 L111.65 250.8 L111.65 251.86 L113.9 251.86 L113.9 252.96 L116.05 252.96 L116.05 254.04 L118.05 254.04 L118.05 255.06 L123.2 255.06 L123.2 256.06 L130.95 256.06 L130.95 257.12 L132.95 257.12 L132.95 258.25 L134.95 258.25 L134.95 259.38 L137.15 259.38 L137.15 260.4 L141.15 260.4 L141.15 261.46 L145.15 261.46 L145.15 262.52 L149.35 262.52 L149.35 263.54 L153.85 263.54 L153.85 264.59 L157.9 264.59 L157.9 265.6 L161.4 265.6 L161.4 266.67 L164.9 266.67 L164.9 267.73 L168.85 267.73 L168.85 268.76 L173.85 268.76 L173.85 269.78 L180.4 269.78 L180.4 270.79 L190.85 270.79 L190.85 271.82 L201.15 271.82 L201.15 272.82 L209.35 272.82 L209.35 273.84 L213.1 273.84 L213.1 274.87 L219.8 274.87" stroke="#0b4a82" stroke-width="1.8" fill="none" stroke-linejoin="round"/>
<path d="M343.3 310.39 L344.3 310.39 L344.3 308.95 L345.3 308.95 L345.3 307.52 L346.3 307.52 L346.3 306.08 L347.15 306.08 L347.15 304.61 L347.9 304.61 L347.9 303.29 L348.65 303.29 L348.65 301.97 L349.4 301.97 L349.4 300.65 L350 300.65 L350 299.34 L350.75 299.34 L350.75 297.63 L351.5 297.63 L351.5 295.93 L352.1 295.93 L352.1 294.54 L352.85 294.54 L352.85 292.8 L353.6 292.8 L353.6 291.06 L354.45 291.06 L354.45 289.75 L355.45 289.75 L355.45 288.31 L356.45 288.31 L356.45 286.87 L357.3 286.87 L357.3 285.66 L358.3 285.66 L358.3 284.26 L359.3 284.26 L359.3 282.85 L360.4 282.85 L360.4 281.45 L361.65 281.45 L361.65 280.06 L362.9 280.06 L362.9 278.66 L364.25 278.66 L364.25 277.27 L365.5 277.27 L365.5 275.99 L366.75 275.99 L366.75 274.72 L368.15 274.72 L368.15 273.3 L369.4 273.3 L369.4 272.1 L370.65 272.1 L370.65 270.9 L372.45 270.9 L372.45 269.55 L374.45 269.55 L374.45 268.23 L377 268.23 L377 266.91 L379.05 266.91 L379.05 265.56 L380.8 265.56 L380.8 264.25 L382.75 264.25 L382.75 263.04 L384.8 263.04 L384.8 261.8 L386.8 261.8 L386.8 260.58 L389.35 260.58 L389.35 259.3 L393.15 259.3 L393.15 258.09 L400.25 258.09 L400.25 256.88 L406.4 256.88 L406.4 256.4 L437.8 256.4 L437.8 255.2 L447.2 255.2 L447.2 253.96 L449.75 253.96 L449.75 252.67 L451.5 252.67 L451.5 251.43 L452.1 251.43 L452.1 251 L476.8 251" stroke="#0b4a82" stroke-width="1" fill="none" opacity="0.28"/><path d="M343.3 310.39 L344.3 310.39 L344.3 308.95 L345.3 308.95 L345.3 307.52 L346.3 307.52 L346.3 306.08 L347.15 306.08 L347.15 304.61 L347.9 304.61 L347.9 303.29 L348.65 303.29 L348.65 301.97 L349.4 301.97 L349.4 300.65 L350 300.65 L350 299.34 L350.75 299.34 L350.75 297.63 L351.5 297.63 L351.5 295.93 L352.1 295.93 L352.1 294.54 L352.85 294.54 L352.85 292.8 L353.6 292.8 L353.6 291.06 L354.45 291.06 L354.45 289.75 L355.45 289.75 L355.45 288.31 L356.45 288.31 L356.45 286.87 L357.3 286.87 L357.3 285.66 L358.3 285.66 L358.3 284.26 L359.3 284.26 L359.3 282.85 L360.4 282.85 L360.4 281.45 L361.65 281.45 L361.65 280.06 L362.9 280.06 L362.9 278.66 L364.25 278.66 L364.25 277.27 L365.5 277.27 L365.5 275.99 L366.75 275.99 L366.75 274.72 L368.15 274.72 L368.15 273.3 L369.4 273.3 L369.4 272.1 L370.65 272.1 L370.65 270.9 L372.45 270.9 L372.45 269.55 L374.45 269.55 L374.45 268.23 L377 268.23 L377 266.91 L379.05 266.91 L379.05 265.56 L380.8 265.56 L380.8 264.25 L382.75 264.25 L382.75 263.04 L384.8 263.04 L384.8 261.8 L386.8 261.8 L386.8 260.58 L389.35 260.58 L389.35 259.3 L393.15 259.3 L393.15 258.09 L400.25 258.09 L400.25 256.88 L406.4 256.88 L406.4 256.4 L437.8 256.4 L437.8 255.2 L447.2 255.2 L447.2 253.96 L449.75 253.96 L449.75 252.67 L451.5 252.67 L451.5 251.43 L452.1 251.43 L452.1 251 L476.8 251" stroke="url(#pb)" stroke-width="1" fill="none" opacity="0.8"/>
<path d="M343.3 312.01 L344.3 312.01 L344.3 310.74 L345.3 310.74 L345.3 309.47 L346.3 309.47 L346.3 308.19 L347.15 308.19 L347.15 306.87 L348.15 306.87 L348.15 305.28 L349.15 305.28 L349.15 303.68 L350 303.68 L350 302.07 L350.75 302.07 L350.75 300.49 L351.5 300.49 L351.5 298.91 L352.1 298.91 L352.1 297.62 L352.85 297.62 L352.85 296.01 L353.6 296.01 L353.6 294.39 L354.7 294.39 L354.7 292.9 L355.7 292.9 L355.7 291.63 L356.7 291.63 L356.7 290.36 L357.8 290.36 L357.8 288.99 L358.8 288.99 L358.8 287.75 L359.8 287.75 L359.8 286.52 L361.15 286.52 L361.15 285.21 L362.65 285.21 L362.65 283.78 L364.25 283.78 L364.25 282.38 L365.75 282.38 L365.75 281.1 L367.25 281.1 L367.25 279.81 L368.9 279.81 L368.9 278.46 L370.65 278.46 L370.65 277.07 L372.7 277.07 L372.7 275.85 L375.25 275.85 L375.25 274.58 L378.05 274.58 L378.05 273.32 L380.05 273.32 L380.05 271.98 L382 271.98 L382 270.76 L384.25 270.76 L384.25 269.43 L386.3 269.43 L386.3 268.19 L388.6 268.19 L388.6 266.95 L391.65 266.95 L391.65 265.73 L397.15 265.73 L397.15 264.48 L406.4 264.48 L406.4 263.7 L437.8 263.7 L437.8 262.5 L447.2 262.5 L447.2 261.26 L449.75 261.26 L449.75 259.97 L451.5 259.97 L451.5 258.73 L452.1 258.73 L452.1 258.3 L476.8 258.3" stroke="#0b4a82" stroke-width="1" fill="none" opacity="0.28"/><path d="M343.3 312.01 L344.3 312.01 L344.3 310.74 L345.3 310.74 L345.3 309.47 L346.3 309.47 L346.3 308.19 L347.15 308.19 L347.15 306.87 L348.15 306.87 L348.15 305.28 L349.15 305.28 L349.15 303.68 L350 303.68 L350 302.07 L350.75 302.07 L350.75 300.49 L351.5 300.49 L351.5 298.91 L352.1 298.91 L352.1 297.62 L352.85 297.62 L352.85 296.01 L353.6 296.01 L353.6 294.39 L354.7 294.39 L354.7 292.9 L355.7 292.9 L355.7 291.63 L356.7 291.63 L356.7 290.36 L357.8 290.36 L357.8 288.99 L358.8 288.99 L358.8 287.75 L359.8 287.75 L359.8 286.52 L361.15 286.52 L361.15 285.21 L362.65 285.21 L362.65 283.78 L364.25 283.78 L364.25 282.38 L365.75 282.38 L365.75 281.1 L367.25 281.1 L367.25 279.81 L368.9 279.81 L368.9 278.46 L370.65 278.46 L370.65 277.07 L372.7 277.07 L372.7 275.85 L375.25 275.85 L375.25 274.58 L378.05 274.58 L378.05 273.32 L380.05 273.32 L380.05 271.98 L382 271.98 L382 270.76 L384.25 270.76 L384.25 269.43 L386.3 269.43 L386.3 268.19 L388.6 268.19 L388.6 266.95 L391.65 266.95 L391.65 265.73 L397.15 265.73 L397.15 264.48 L406.4 264.48 L406.4 263.7 L437.8 263.7 L437.8 262.5 L447.2 262.5 L447.2 261.26 L449.75 261.26 L449.75 259.97 L451.5 259.97 L451.5 258.73 L452.1 258.73 L452.1 258.3 L476.8 258.3" stroke="url(#pb)" stroke-width="1" fill="none" opacity="0.8"/>
<path d="M347.4 307.5 L348.65 307.5 L348.65 305.5 L349.9 305.5 L349.9 303.5 L351.15 303.5 L351.15 301.5 L352.4 301.5 L352.4 299.5 L353.65 299.5 L353.65 297.5 L355.45 297.5 L355.45 296.5 L357.45 296.5 L357.45 294.5 L359.45 294.5 L359.45 292.5 L363.4 292.5 L363.4 291.5 L369.1 291.5 L369.1 289.5 L375.5 289.5 L375.5 288.5 L380.85 288.5 L380.85 286.5 L384.6 286.5 L384.6 285.5 L387.85 285.5 L387.85 283.5 L400.85 283.5 L400.85 282.5 L404 282.5 L404 278.5 L424.7 278.5 L424.7 274.5 L488 274.5" stroke="#c3002b" stroke-width="1" fill="none" opacity="0.28"/><path d="M347.4 307.5 L348.65 307.5 L348.65 305.5 L349.9 305.5 L349.9 303.5 L351.15 303.5 L351.15 301.5 L352.4 301.5 L352.4 299.5 L353.65 299.5 L353.65 297.5 L355.45 297.5 L355.45 296.5 L357.45 296.5 L357.45 294.5 L359.45 294.5 L359.45 292.5 L363.4 292.5 L363.4 291.5 L369.1 291.5 L369.1 289.5 L375.5 289.5 L375.5 288.5 L380.85 288.5 L380.85 286.5 L384.6 286.5 L384.6 285.5 L387.85 285.5 L387.85 283.5 L400.85 283.5 L400.85 282.5 L404 282.5 L404 278.5 L424.7 278.5 L424.7 274.5 L488 274.5" stroke="url(#pr)" stroke-width="1" fill="none" opacity="1.0"/>
<path d="M350.6 309.5 L352.6 309.5 L352.6 307.5 L354.6 307.5 L354.6 305.5 L356.6 305.5 L356.6 304.5 L360.05 304.5 L360.05 302.5 L363.8 302.5 L363.8 300.5 L369.35 300.5 L369.35 299.5 L374.5 299.5 L374.5 297.5 L380.85 297.5 L380.85 296.5 L385.6 296.5 L385.6 294.5 L400.35 294.5 L400.35 293.5 L404 293.5 L404 290.5 L424.7 290.5 L424.7 288.5 L488 288.5" stroke="#c3002b" stroke-width="1" fill="none" opacity="0.28"/><path d="M350.6 309.5 L352.6 309.5 L352.6 307.5 L354.6 307.5 L354.6 305.5 L356.6 305.5 L356.6 304.5 L360.05 304.5 L360.05 302.5 L363.8 302.5 L363.8 300.5 L369.35 300.5 L369.35 299.5 L374.5 299.5 L374.5 297.5 L380.85 297.5 L380.85 296.5 L385.6 296.5 L385.6 294.5 L400.35 294.5 L400.35 293.5 L404 293.5 L404 290.5 L424.7 290.5 L424.7 288.5 L488 288.5" stroke="url(#pr)" stroke-width="1" fill="none" opacity="1.0"/>
<path d="M336.6 316.5 L342.7 316.5 L342.7 314.9 L344.55 314.9 L344.55 312.96 L345.8 312.96 L345.8 311.27 L347.05 311.27 L347.05 309.57 L348.4 309.57 L348.4 307.82 L349.65 307.82 L349.65 306.22 L351.1 306.22 L351.1 304.4 L352.6 304.4 L352.6 302.61 L354.2 302.61 L354.2 300.88 L356.2 300.88 L356.2 299.2 L359.3 299.2 L359.3 297.49 L363.4 297.49 L363.4 295.87 L370.5 295.87 L370.5 294.23 L375.3 294.23 L375.3 292.6 L381.4 292.6 L381.4 290.98 L385.15 290.98 L385.15 289.28 L392.35 289.28 L392.35 287.67 L397.5 287.67 L397.5 287.2 L404 287.2 L404 284.4 L424.7 284.4 L424.7 281.7 L490.5 281.7" stroke="#c3002b" stroke-width="1.9" fill="none" stroke-linejoin="round"/>
<path d="M336.6 316.5 L338.5 316.5 L338.5 315.42 L340.2 315.42 L340.2 314.3 L341.2 314.3 L341.2 313.3 L342.2 313.3 L342.2 312.3 L343.2 312.3 L343.2 311.3 L344.05 311.3 L344.05 310.18 L344.8 310.18 L344.8 309.17 L345.55 309.17 L345.55 308.15 L346.3 308.15 L346.3 307.14 L347.15 307.14 L347.15 305.74 L347.9 305.74 L347.9 304.48 L348.65 304.48 L348.65 303.23 L349.4 303.23 L349.4 301.97 L350 301.97 L350 300.7 L350.5 300.7 L350.5 299.61 L351 299.61 L351 298.51 L351.5 298.51 L351.5 297.42 L352.1 297.42 L352.1 296.08 L352.6 296.08 L352.6 294.96 L353.1 294.96 L353.1 293.84 L353.6 293.84 L353.6 292.72 L354.45 292.72 L354.45 291.48 L355.2 291.48 L355.2 290.47 L355.95 290.47 L355.95 289.45 L356.7 289.45 L356.7 288.44 L357.55 288.44 L357.55 287.31 L358.55 287.31 L358.55 285.99 L359.55 285.99 L359.55 284.66 L360.65 284.66 L360.65 283.43 L361.65 283.43 L361.65 282.39 L362.65 282.39 L362.65 281.36 L363.75 281.36 L363.75 280.3 L365 280.3 L365 279.12 L366.25 279.12 L366.25 277.95 L367.5 277.95 L367.5 276.78 L368.65 276.78 L368.65 275.74 L369.9 275.74 L369.9 274.64 L371.15 274.64 L371.15 273.54 L372.95 273.54 L372.95 272.44 L374.75 272.44 L374.75 271.37 L376.75 271.37 L376.75 270.34 L378.55 270.34 L378.55 269.24 L380.05 269.24 L380.05 268.11 L381.5 268.11 L381.5 267.1 L383.25 267.1 L383.25 266.04 L385.05 266.04 L385.05 264.95 L386.8 264.95 L386.8 263.88 L388.85 263.88 L388.85 262.83 L391.4 262.83 L391.4 261.79 L395.9 261.79 L395.9 260.76 L405.75 260.76 L405.75 259.75 L406.4 259.75 L406.4 259.7 L435.3 259.7 L435.3 258.69 L446.45 258.69 L446.45 257.58 L448.95 257.58 L448.95 256.52 L450.5 256.52 L450.5 255.44 L452 255.44 L452 254.37 L452.1 254.37 L452.1 254.3 L490.5 254.3" stroke="#0b4a82" stroke-width="1.8" fill="none" stroke-linejoin="round"/>
<g fill="#111"><rect x="0" y="0" width="520" height="1.1"/><rect x="0" y="0" width="1.5" height="366"/><rect x="517.8" y="0" width="2.2" height="366"/><rect x="0" y="363.8" width="520" height="2.2"/></g>
</svg>
</body></html>
